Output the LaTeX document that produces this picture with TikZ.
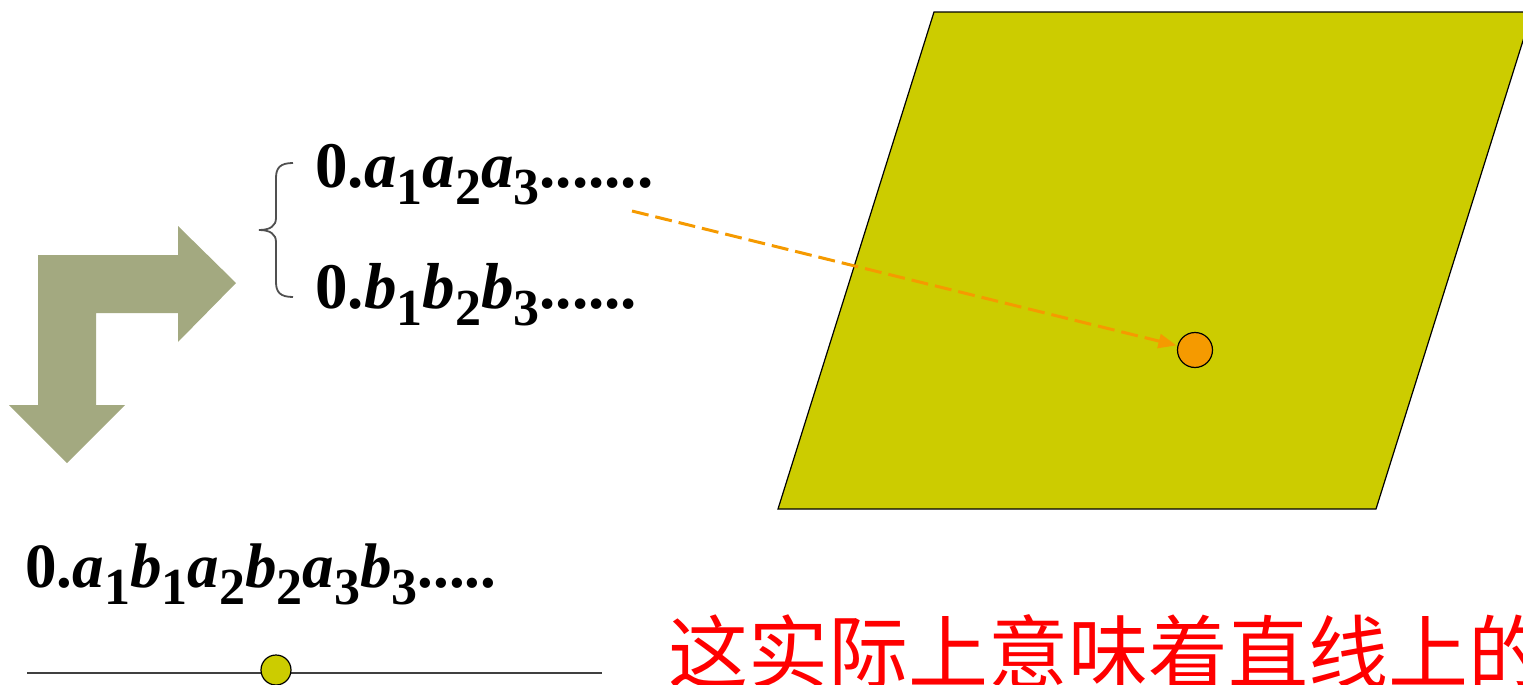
\documentclass[tikz,border=0pt]{standalone}
\usepackage{fontspec}
\setmainfont{Liberation Serif}
\newfontfamily\cjk{Noto Sans CJK SC}
\usetikzlibrary{arrows.meta}
\definecolor{plane}{HTML}{CCCC00}
\definecolor{dotor}{HTML}{F59A00}
\definecolor{arrg}{HTML}{A3A980}
\definecolor{bracec}{HTML}{505050}
\newcommand{\subs}[1]{\raisebox{-0.27em}{\fontsize{26}{26}\selectfont\textbf{#1}}}
\tikzset{
  formula/.style={inner sep=0pt, anchor=base west, font=\fontsize{32.5}{33}\selectfont},
  dotnode/.style={circle, draw=black, line width=0.6pt, inner sep=0pt, minimum size=17.5pt},
  maparrow/.style={dotor, line width=1.5pt, dash pattern=on 8.5pt off 3.5pt, -{Triangle[length=9pt,width=7pt]}, shorten >=0.5pt}
}
\begin{document}
\begin{tikzpicture}[x=0.5pt, y=-0.5pt]
\useasboundingbox (0,0) rectangle (1523,685);
\clip (0,0) rectangle (1523,685);
% plane
\path[fill=plane, draw=black, line width=0.6pt] (934,12) -- (1532,12) -- (1376,509) -- (778,509) -- cycle;
% L arrow
\path[fill=arrg] (38,255) -- (178,255) -- (178,226) -- (236,283) -- (178,342) -- (178,313) -- (96,313) -- (96,405) -- (125,405) -- (67,463) -- (9,405) -- (38,405) -- cycle;
% brace
\draw[bracec, line width=0.9pt] (293,163) .. controls (280,163) and (276,168) .. (276,178) -- (276,218) .. controls (276,226) and (270,230) .. (259,230) .. controls (270,230) and (276,234) .. (276,242) -- (276,282) .. controls (276,292) and (280,297) .. (293,297);
% formulas
\node[formula] (fa) at (315,187) {\textbf{0.\textit{a}\subs{1}\textit{a}\subs{2}\textit{a}\subs{3}.......}};
\node[formula] (fb) at (315,308) {\textbf{0.\textit{b}\subs{1}\textit{b}\subs{2}\textit{b}\subs{3}......}};
\node[formula, font=\fontsize{31.5}{32}\selectfont] (fab) at (25,587) {\textbf{0.\textit{a}\subs{1}\textit{b}\subs{1}\textit{a}\subs{2}\textit{b}\subs{2}\textit{a}\subs{3}\textit{b}\subs{3}.....}};
% line and yellow dot
\draw[black!75, line width=1pt] (27,673) -- (602,673);
\node[dotnode, fill=plane, minimum size=15pt] (ldot) at (276,670) {};
% orange dot and arrow
\node[dotnode, fill=dotor] (pdot) at (1195,350) {};
\coordinate (astart) at (632,211);
\draw[maparrow] (astart) -- (pdot);
% Chinese text
\node[inner sep=0pt, anchor=base west, text=red, font=\cjk\fontsize{40}{40}\selectfont] (cn) at (668,682) {这实际上意味着直线上的};
\end{tikzpicture}
\end{document}
